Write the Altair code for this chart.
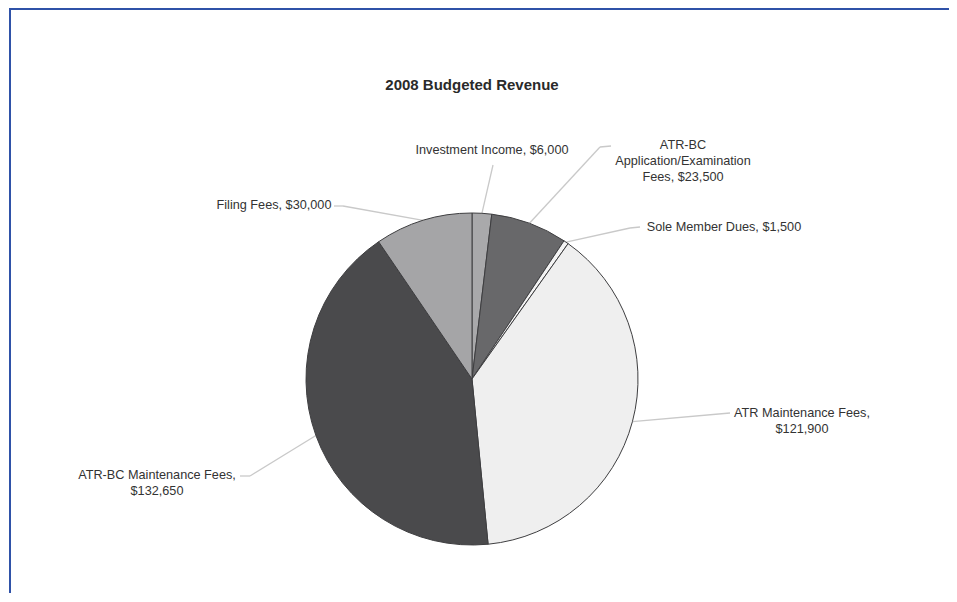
import altair as alt
import pandas as pd

# ---- data ----
categories = ["Investment Income", "ATR-BC Application/Examination Fees", "Sole Member Dues",
              "ATR Maintenance Fees", "ATR-BC Maintenance Fees", "Filing Fees"]
values = [6000, 23500, 1500, 121900, 132650, 30000]
labels = ["Investment Income, $6,000",
          "ATR-BC\nApplication/Examination\nFees, $23,500",
          "Sole Member Dues, $1,500",
          "ATR Maintenance Fees,\n$121,900",
          "ATR-BC Maintenance Fees,\n$132,650",
          "Filing Fees, $30,000"]
colors = ["#a9a9ab", "#68686a", "#f4f4f4", "#efefef", "#4a4a4c", "#a5a5a7"]

# ---- layout (chart pixel coordinates) ----
W, H = 941, 585
CX, CY, R = 464, 371, 166
label_x = [484, 675, 716, 794, 149, 266]
label_y = [142, 137, 219, 405, 467, 197]
bend_x = [485, 592, 622, 722, 242, 335]
bend_y = [157, 139, 220, 405, 468, 198]
end_x = [485, 603, 632, 722, 232, 326]
end_y = [157, 138, 219, 405, 468, 198]

df = pd.DataFrame({
    "category": categories, "value": values, "label": labels,
    "order": list(range(len(categories))),
    "lx": label_x, "ly": label_y, "bx": bend_x, "by": bend_y,
    "endx": end_x, "endy": end_y,
})

base = alt.Chart(df)

pie = base.mark_arc(radius=R, stroke="#3e3e40", strokeWidth=1).encode(
    theta=alt.Theta("value:Q", stack=True),
    order=alt.Order("order:Q"),
    color=alt.Color("category:N", scale=alt.Scale(domain=categories, range=colors), legend=None),
    x=alt.value(CX), y=alt.value(CY),
)

edges = base.transform_joinaggregate(total="sum(value)").transform_window(
    cum="sum(value)", sort=[alt.SortField("order")], frame=[None, 0]
).transform_calculate(
    ang="(datum.cum - datum.value/2) / datum.total * 2 * PI",
).transform_calculate(
    ex=f"{CX} + {R} * sin(datum.ang)",
    ey=f"{CY} - {R} * cos(datum.ang)",
)

lead1 = edges.mark_rule(color="#c9c9c9", strokeWidth=1.3).encode(
    x=alt.X("ex:Q", scale=None, axis=None), y=alt.Y("ey:Q", scale=None, axis=None),
    x2="bx:Q", y2="by:Q",
)
lead2 = base.mark_rule(color="#c9c9c9", strokeWidth=1.3).encode(
    x=alt.X("bx:Q", scale=None, axis=None), y=alt.Y("by:Q", scale=None, axis=None),
    x2="endx:Q", y2="endy:Q",
)

text = base.mark_text(font="Liberation Sans", fontSize=12.7, color="#333333",
                      lineBreak="\n", lineHeight=16, align="center", baseline="middle").encode(
    x=alt.X("lx:Q", scale=None, axis=None), y=alt.Y("ly:Q", scale=None, axis=None),
    text="label:N",
)

title_df = pd.DataFrame({"t": ["2008 Budgeted Revenue"]})
title = alt.Chart(title_df).mark_text(font="Liberation Sans", fontSize=15, fontWeight="bold",
                                      color="#2a2a2a", align="center", baseline="middle").encode(
    x=alt.value(464), y=alt.value(77), text="t:N")

frame_top = alt.Chart(title_df).mark_rule(color="#2f52a8", strokeWidth=2).encode(
    x=alt.value(1), x2=alt.value(W + 10), y=alt.value(1), y2=alt.value(1))
frame_left = alt.Chart(title_df).mark_rule(color="#2f52a8", strokeWidth=2).encode(
    x=alt.value(2), x2=alt.value(2), y=alt.value(0), y2=alt.value(H))

chart = alt.layer(lead1, lead2, pie, text, title, frame_top, frame_left).properties(
    width=W, height=H, padding=0, autosize="none"
).configure_view(stroke="transparent", strokeWidth=0)

chart.save("out.html", embed_options={"renderer": "svg", "actions": False})
